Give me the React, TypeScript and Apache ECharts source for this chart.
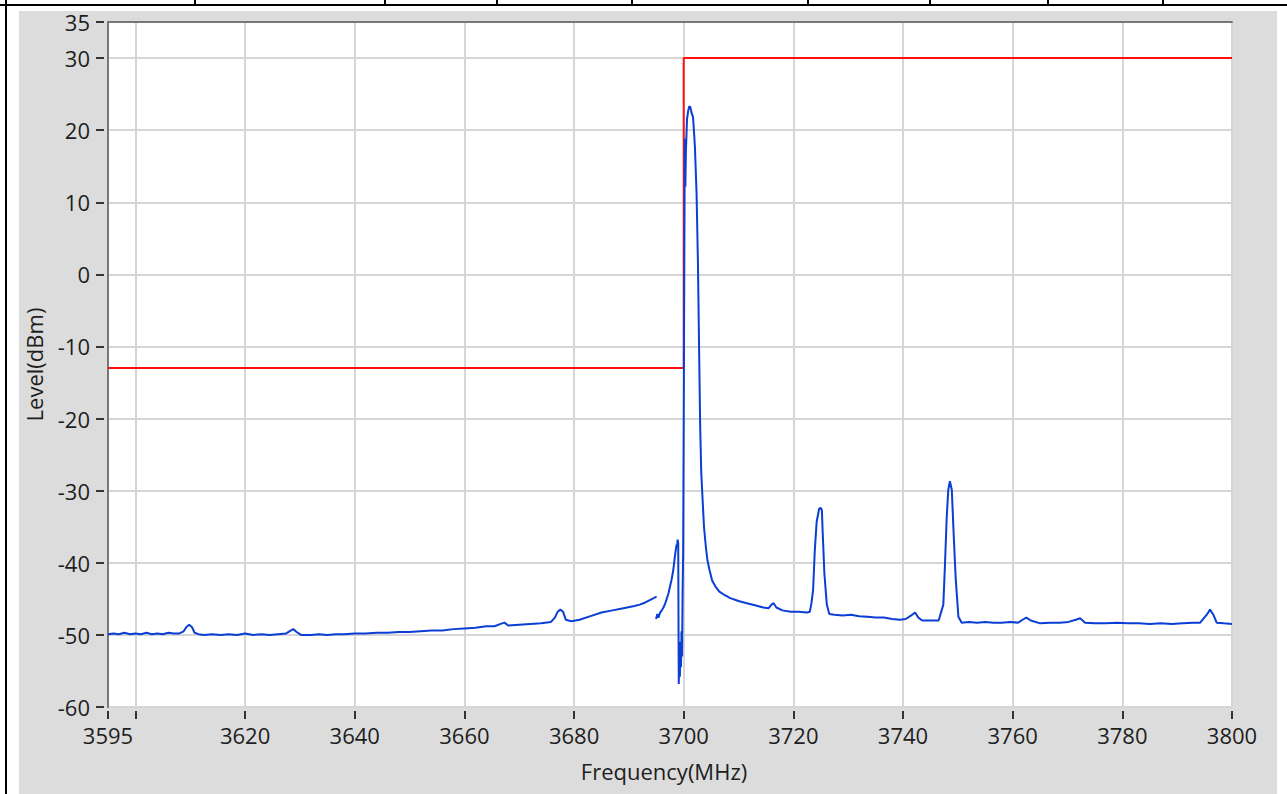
import React, { useEffect, useRef } from "react";
import * as echarts from "echarts";

const xMin = 3595;
const xMax = 3800;
const yMin = -60;
const yMax = 35;
const xLabelValues = [3595, 3620, 3640, 3660, 3680, 3700, 3720, 3740, 3760, 3780, 3800];
const xTickValues = [3595, 3600, 3620, 3640, 3660, 3680, 3700, 3720, 3740, 3760, 3780, 3800];
const xAxisName = "Frequency(MHz)";
const yAxisName = "Level(dBm)";

// Spectrum emission mask limit
const limitLine: [number, number][] = [
  [3595, -13],
  [3700, -13],
  [3700, 30],
  [3800, 30],
];

// Measured spectrum trace ('-' = gap in trace)
const spectrum: [number, number | string][] = [
  [3595, -49.9], [3596, -49.8], [3597, -49.9], [3598, -49.7], [3599, -49.9], [3600, -49.8],
  [3601, -49.9], [3602, -49.7], [3603, -49.9], [3604, -49.8], [3605, -49.9], [3606, -49.7],
  [3607, -49.8], [3608, -49.8], [3608.8, -49.5], [3609.3, -48.9], [3609.8, -48.6], [3610.3, -48.9],
  [3610.8, -49.7], [3611.5, -49.9], [3612.5, -50.0], [3614, -49.9], [3615.5, -50.0], [3617, -49.9],
  [3618.5, -50.0], [3620, -49.8], [3621.5, -50.0], [3623, -49.9], [3624.5, -50.0], [3626, -49.9],
  [3627.5, -49.8], [3628.3, -49.4], [3628.8, -49.2], [3629.4, -49.6], [3630.2, -50.0], [3632, -50.0],
  [3633.5, -49.9], [3635, -50.0], [3636.5, -49.9], [3638, -49.9], [3640, -49.8], [3642, -49.8],
  [3644, -49.7], [3646, -49.7], [3648, -49.6], [3650, -49.6], [3652, -49.5], [3654, -49.4],
  [3656, -49.4], [3658, -49.2], [3660, -49.1], [3662, -49.0], [3664, -48.8], [3665.5, -48.8],
  [3666.5, -48.5], [3667.3, -48.3], [3668, -48.7], [3670, -48.6], [3672, -48.5], [3674, -48.4],
  [3675.8, -48.2], [3676.5, -47.6], [3677, -46.8], [3677.5, -46.5], [3678, -46.8], [3678.5, -47.9],
  [3679.5, -48.1], [3681, -47.9], [3683, -47.4], [3685, -46.9], [3687, -46.6], [3689, -46.3],
  [3691, -46.0], [3692, -45.8], [3693, -45.5], [3694, -45.1], [3695.05, -44.7],
  [3695.05, "-"],
  [3694.95, -47.8], [3695.2, -47.1], [3695.4, -47.6], [3695.7, -46.9], [3696.0, -46.6], [3696.3, -46.2],
  [3696.6, -45.7], [3696.9, -45.0], [3697.2, -44.3], [3697.5, -43.3], [3697.8, -42.3], [3698.1, -41.0],
  [3698.35, -39.4], [3698.55, -38.2], [3698.7, -37.5], [3698.8, -37.6], [3698.9, -36.8], [3699.0, -37.3],
  [3699.05, -48.0], [3699.1, -56.8], [3699.2, -51.5], [3699.3, -55.8], [3699.4, -51.0], [3699.5, -54.5],
  [3699.6, -49.5], [3699.7, -53.0], [3699.8, -44.0], [3699.9, -38.5], [3700.0, -20.0], [3700.1, 0.0],
  [3700.2, 18.8], [3700.3, 12.2], [3700.4, 17.0], [3700.6, 21.5], [3700.8, 22.6], [3701.0, 23.3],
  [3701.2, 23.2], [3701.4, 22.5], [3701.7, 21.8], [3701.9, 19.5], [3702.05, 17.6], [3702.35, 11.1],
  [3702.6, 1.4], [3702.8, -10.0], [3703.0, -21.0], [3703.2, -27.5], [3703.45, -31.3], [3703.7, -35.0],
  [3704.0, -37.5], [3704.3, -39.5], [3704.7, -41.0], [3705.2, -42.5], [3705.8, -43.3], [3706.5, -44.0],
  [3707.5, -44.5], [3708.5, -44.9], [3710, -45.3], [3711.5, -45.6], [3713, -45.9], [3714.5, -46.2],
  [3715.5, -46.3], [3716.0, -45.8], [3716.4, -45.6], [3716.9, -46.2], [3718, -46.6], [3719.5, -46.8],
  [3721, -46.8], [3722.5, -46.9], [3723.0, -46.8], [3723.3, -45.6], [3723.6, -43.8], [3723.9, -38.4],
  [3724.25, -34.3], [3724.7, -32.5], [3725.0, -32.4], [3725.2, -32.7], [3725.35, -35.8], [3725.65, -41.4],
  [3726.1, -45.8], [3726.55, -47.1], [3727.5, -47.2], [3729, -47.3], [3730.5, -47.2], [3732, -47.4],
  [3733.5, -47.5], [3735, -47.6], [3736.5, -47.6], [3738, -47.8], [3739.4, -47.9], [3740.5, -47.8],
  [3741.5, -47.3], [3742.2, -46.9], [3742.8, -47.6], [3743.5, -48.0], [3745, -48.0], [3746.5, -48.0],
  [3747.35, -45.8], [3747.65, -40.3], [3747.95, -34.0], [3748.25, -29.9], [3748.55, -28.7], [3748.9, -29.9],
  [3749.2, -35.4], [3749.6, -42.1], [3750.1, -47.5], [3750.7, -48.3], [3752, -48.2], [3753.5, -48.3],
  [3755, -48.2], [3756.5, -48.3], [3758, -48.3], [3759.5, -48.2], [3761, -48.3], [3761.8, -47.9],
  [3762.5, -47.6], [3763.3, -48.0], [3765, -48.4], [3766.8, -48.3], [3768.6, -48.3], [3770.2, -48.2],
  [3771.5, -47.9], [3772.3, -47.7], [3773.2, -48.3], [3775, -48.4], [3777, -48.4], [3779, -48.3],
  [3781, -48.4], [3783, -48.4], [3785, -48.5], [3787, -48.4], [3789, -48.5], [3791, -48.4],
  [3793, -48.3], [3794.2, -48.3], [3795.4, -47.2], [3796.0, -46.5], [3796.6, -47.2], [3797.2, -48.3],
  [3798.5, -48.4], [3800, -48.5],
];

const tableDividers = [195, 385, 497, 632, 808, 930, 1048, 1163];

const FONT = "Open Sans";
const TEXT_COLOR = "#1e1e1e";

export default function App() {
  const ref = useRef<HTMLDivElement>(null);

  useEffect(() => {
    if (!ref.current) return;
    const chart = echarts.init(ref.current, null, { renderer: "svg" });

    const graphics: any[] = [
      {
        type: "rect",
        z: -10,
        shape: { x: 19, y: 11, width: 1258, height: 783 },
        style: { fill: "#dcdcdc" },
        silent: true,
      },
      {
        type: "line",
        shape: { x1: 0, y1: 5, x2: 1287, y2: 5 },
        style: { stroke: "#000", lineWidth: 2 },
        silent: true,
      },
      {
        type: "line",
        shape: { x1: 6, y1: 0, x2: 6, y2: 794 },
        style: { stroke: "#000", lineWidth: 2 },
        silent: true,
      },
      ...tableDividers.map((x) => ({
        type: "line",
        shape: { x1: x, y1: 0, x2: x, y2: 6 },
        style: { stroke: "#000", lineWidth: 2 },
        silent: true,
      })),
    ];

    chart.setOption({
      animation: false,
      textStyle: { fontFamily: FONT },
      graphic: graphics,
      grid: {
        left: 108,
        right: 55,
        top: 22,
        bottom: 87,
        show: true,
        backgroundColor: "#ffffff",
        borderWidth: 0,
        containLabel: false,
      },
      xAxis: [
        {
          type: "value",
          min: xMin,
          max: xMax,
          position: "bottom",
          offset: 4,
          name: xAxisName,
          nameLocation: "middle",
          nameGap: 49,
          nameTextStyle: { fontSize: 22, color: TEXT_COLOR, fontFamily: FONT, padding: [0, 12, 0, 0] },
          axisLine: { show: false, onZero: false },
          axisTick: {
            show: true,
            length: 8,
            customValues: xTickValues,
            lineStyle: { color: "#333", width: 2 },
          },
          axisLabel: {
            show: true,
            customValues: xLabelValues,
            formatter: (v: number) => String(v),
            margin: 13,
            fontSize: 22,
            color: TEXT_COLOR,
            fontFamily: FONT,
          },
          splitLine: { show: true, lineStyle: { color: "#d6d6d6", width: 2 } },
        },
        {
          type: "value",
          min: xMin,
          max: xMax,
          position: "top",
          axisLine: { show: true, onZero: false, lineStyle: { color: "#777", width: 2 } },
          axisTick: { show: false },
          axisLabel: { show: false },
          splitLine: { show: false },
        },
      ],
      yAxis: [
        {
          type: "value",
          min: yMin,
          max: yMax,
          interval: 10,
          position: "left",
          name: yAxisName,
          nameLocation: "middle",
          nameGap: 63,
          nameTextStyle: { fontSize: 22, color: TEXT_COLOR, fontFamily: FONT },
          axisLine: { show: true, onZero: false, lineStyle: { color: "#777", width: 2 } },
          axisTick: { show: false },
          axisLabel: { show: false },
          splitLine: { show: true, lineStyle: { color: "#d6d6d6", width: 2 } },
        },
        {
          type: "value",
          min: yMin,
          max: yMax,
          interval: 10,
          position: "left",
          offset: 4,
          axisLine: { show: false, onZero: false },
          axisTick: { show: true, length: 8, lineStyle: { color: "#333", width: 2 } },
          axisLabel: {
            show: true,
            margin: 14,
            fontSize: 22,
            color: TEXT_COLOR,
            fontFamily: FONT,
          },
          splitLine: { show: false },
        },
      ],
      series: [
        {
          name: "Limit",
          type: "line",
          xAxisIndex: 0,
          yAxisIndex: 0,
          data: limitLine,
          showSymbol: false,
          symbol: "none",
          lineStyle: { color: "#ff1010", width: 2 },
          z: 3,
        },
        {
          name: "Spectrum",
          type: "line",
          xAxisIndex: 0,
          yAxisIndex: 0,
          data: spectrum,
          showSymbol: false,
          symbol: "none",
          connectNulls: false,
          lineStyle: { color: "#0a3ed4", width: 2 },
          z: 4,
        },
      ],
    });

    return () => {
      chart.dispose();
    };
  }, []);

  return (
    <div
      ref={ref}
      style={{ position: "fixed", left: 0, top: 0, width: 1287, height: 794, background: "#fff" }}
    />
  );
}
